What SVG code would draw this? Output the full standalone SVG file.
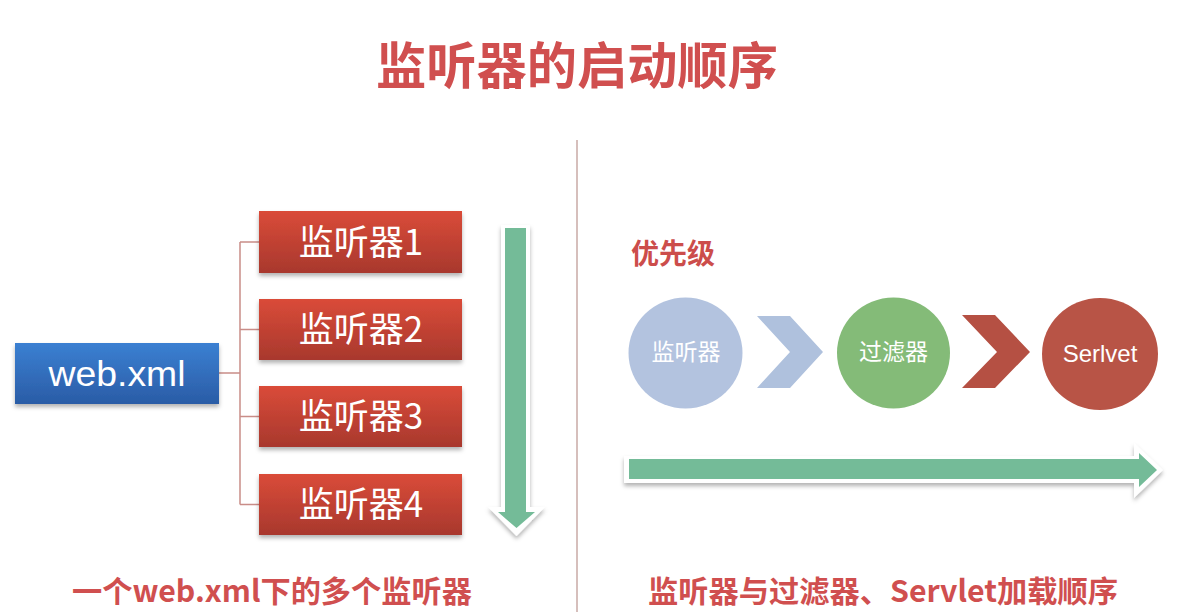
<svg xmlns="http://www.w3.org/2000/svg" width="1182" height="612" viewBox="0 0 1182 612">
<defs>
<linearGradient id="gRed" x1="0" y1="0" x2="0" y2="1">
<stop offset="0" stop-color="#da4b39"/>
<stop offset="1" stop-color="#a8382d"/>
</linearGradient>
<linearGradient id="gBlue" x1="0" y1="0" x2="0" y2="1">
<stop offset="0" stop-color="#3b80d2"/>
<stop offset="1" stop-color="#2a5ca6"/>
</linearGradient>
<filter id="shadow" x="-10%" y="-20%" width="120%" height="150%">
<feDropShadow dx="0" dy="3" stdDeviation="2" flood-color="#000" flood-opacity="0.3"/>
</filter>
</defs>
<style>
.title{font-family:"Noto Sans CJK SC",sans-serif;font-weight:bold;fill:#d04f4f;}
.boxtxt{font-family:"Noto Sans CJK SC",sans-serif;fill:#ffffff;font-size:35px;text-anchor:middle;}
.circ{font-family:"Noto Sans CJK SC",sans-serif;fill:#ffffff;font-size:23px;text-anchor:middle;}
.conn{stroke:#c98d88;stroke-width:1.5;fill:none;}
.rbox{fill:url(#gRed);filter:url(#shadow);}
</style>
<rect width="1182" height="612" fill="#ffffff"/>
<text class="title" x="577" y="84" font-size="50" text-anchor="middle" textLength="402" lengthAdjust="spacingAndGlyphs">监听器的启动顺序</text>
<line x1="577" y1="140" x2="577" y2="612" stroke="#c9aaa6" stroke-width="1.5"/>

<g id="connectors">
<path class="conn" d="M219 373 H240 M240 242 V504.5 M240 242 H259 M240 329.5 H259 M240 416.5 H259 M240 504.5 H259"/>
</g>

<g id="webxml">
<rect x="15" y="343" width="204" height="61" fill="url(#gBlue)" filter="url(#shadow)"/>
<text x="117" y="386" font-family="'Liberation Sans',sans-serif" font-size="35" fill="#ffffff" text-anchor="middle" textLength="137" lengthAdjust="spacingAndGlyphs">web.xml</text>
</g>
<g id="listener1">
<rect class="rbox" x="259" y="211" width="203" height="62"/>
<text class="boxtxt" x="361" y="255">监听器1</text>
</g>
<g id="listener2">
<rect class="rbox" x="259" y="299" width="203" height="61"/>
<text class="boxtxt" x="361" y="342">监听器2</text>
</g>
<g id="listener3">
<rect class="rbox" x="259" y="386" width="203" height="61"/>
<text class="boxtxt" x="361" y="429">监听器3</text>
</g>
<g id="listener4">
<rect class="rbox" x="259" y="474" width="203" height="61"/>
<text class="boxtxt" x="361" y="517">监听器4</text>
</g>

<g id="down-arrow">
<polygon points="501,225 530,225 530,507 545,507 516.5,536 488,507 501,507" fill="#ffffff" filter="url(#shadow)"/>
<polygon points="505,228 526,228 526,512 535,512 516.5,528 498,512 505,512" fill="#74bb98"/>
</g>

<text x="631" y="264" font-family="'Noto Sans CJK SC',sans-serif" font-weight="bold" font-size="28" fill="#cc4d4b">优先级</text>

<g id="listener-circle">
<ellipse cx="685.5" cy="353" rx="57" ry="55.5" fill="#b3c3df"/>
<text class="circ" x="686" y="360">监听器</text>
</g>
<g id="chevron1">
<polygon points="757,316 790,316 823,352 790,388 757,388 790,352" fill="#afc1dd"/>
</g>
<g id="filter-circle">
<ellipse cx="893.5" cy="353" rx="56.5" ry="55.5" fill="#84bb78"/>
<text class="circ" x="893.5" y="360">过滤器</text>
</g>
<g id="chevron2">
<polygon points="962,315 995,315 1030,352 995,388 962,388 997,352" fill="#b55043"/>
</g>
<g id="servlet-circle">
<ellipse cx="1100" cy="354" rx="58" ry="56" fill="#b85446"/>
<text x="1100" y="362" font-family="'Liberation Sans',sans-serif" font-size="24" fill="#ffffff" text-anchor="middle">Serlvet</text>
</g>

<g id="right-arrow">
<polygon points="624,456 1134,456 1134,443 1163,470 1134,498 1134,483 624,483" fill="#ffffff" filter="url(#shadow)"/>
<polygon points="629,459 1139,459 1139,453 1157,470 1139,487 1139,479 629,479" fill="#74bb98"/>
</g>

<text class="title" x="272" y="602" font-size="30" text-anchor="middle" textLength="400" lengthAdjust="spacingAndGlyphs">一个web.xml下的多个监听器</text>
<text class="title" x="883" y="602" font-size="30" text-anchor="middle" textLength="470" lengthAdjust="spacingAndGlyphs">监听器与过滤器、Servlet加载顺序</text>
</svg>
